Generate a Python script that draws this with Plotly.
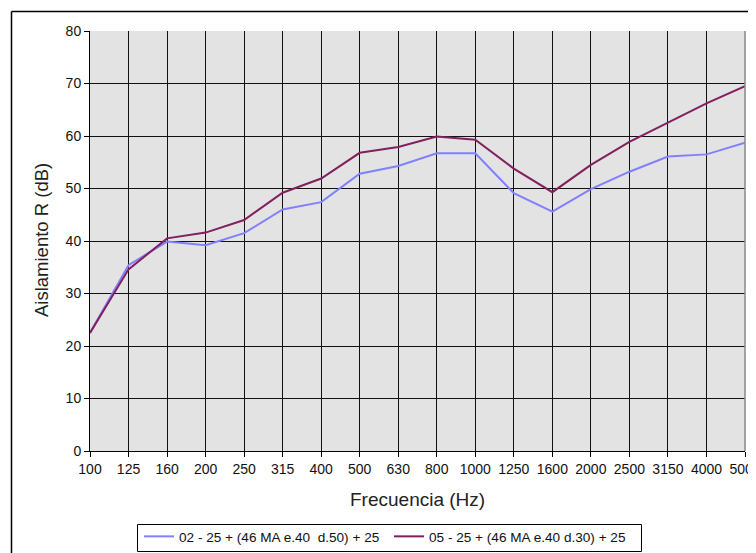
import plotly.graph_objects as go

freqs = ["100", "125", "160", "200", "250", "315", "400", "500", "630", "800",
         "1000", "1250", "1600", "2000", "2500", "3150", "4000", "5000"]
serie_02 = [22.5, 35.4, 39.9, 39.2, 41.5, 46.0, 47.4, 52.8, 54.3, 56.7,
            56.7, 49.1, 45.6, 49.9, 53.2, 56.1, 56.5, 58.7]
serie_05 = [22.5, 34.6, 40.5, 41.6, 44.0, 49.2, 51.9, 56.8, 57.9, 59.9,
            59.3, 53.8, 49.3, 54.5, 58.9, 62.5, 66.2, 69.5]
name_02 = "02 - 25 + (46 MA e.40\u00a0 d.50) + 25"
name_05 = "05 - 25 + (46 MA e.40 d.30) + 25"
y_ticks = [0, 10, 20, 30, 40, 50, 60, 70, 80]
x_title = "Frecuencia (Hz)"
y_title = "Aislamiento R (dB)"

FONT = "Liberation Sans, Arial, sans-serif"

fig = go.Figure()
fig.add_trace(go.Scatter(x=freqs, y=serie_02, mode="lines", name=name_02,
                         line=dict(color="#8080ff", width=2)))
fig.add_trace(go.Scatter(x=freqs, y=serie_05, mode="lines", name=name_05,
                         line=dict(color="#80205f", width=2)))

# the page body adds an 8px margin; work in screen pixels and convert
OFF = 8
W, H = 756 - OFF, 553 - OFF
PL, PR, PT, PB = 90, 745, 31, 451          # plot area in screen pixels
L, R, T, B = PL - OFF, W - (PR - OFF), PT - OFF, H - (PB - OFF)
pw = W - L - R
ph = H - T - B

def px_x(p):
    return (p - OFF - L) / pw

def px_y(p):
    return (H - B - (p - OFF)) / ph

fig.update_layout(
    width=W, height=H,
    margin=dict(l=L, r=R, t=T, b=B, pad=0, autoexpand=False),
    paper_bgcolor="white",
    plot_bgcolor="#e3e3e3",
    font=dict(family=FONT, size=14, color="#000"),
    showlegend=True,
    legend=dict(orientation="h", x=px_x(139), xanchor="left",
                y=px_y(521), yanchor="top",
                borderwidth=0, bgcolor="rgba(0,0,0,0)",
                font=dict(size=13.6, family=FONT, color="#111"),
                itemwidth=30, entrywidth=205),
    xaxis=dict(type="category", categoryorder="array", categoryarray=freqs,
               range=[0, 17], showgrid=True, gridcolor="#111", gridwidth=1.3,
               showline=True, linecolor="#000", linewidth=1,
               ticks="outside", ticklen=5, tickcolor="#000",
               tickfont=dict(size=14, family=FONT, color="#111"),
               automargin=False, zeroline=False, fixedrange=True),
    yaxis=dict(range=[0, 80], tickvals=y_ticks, showgrid=True, gridcolor="#111", gridwidth=1.3,
               showline=True, linecolor="#000", linewidth=1,
               ticks="outside", ticklen=5, tickcolor="#000",
               tickfont=dict(size=14, family=FONT, color="#111"),
               automargin=False, zeroline=False, fixedrange=True),
)

fig.add_annotation(text=x_title, xref="paper", yref="paper",
                   x=px_x(417), y=px_y(499), xanchor="center", yanchor="middle",
                   showarrow=False, font=dict(size=19, family=FONT, color="#222"))
fig.add_annotation(text=y_title, xref="paper", yref="paper", textangle=-90,
                   x=px_x(41), y=px_y(240), xanchor="center", yanchor="middle",
                   showarrow=False, font=dict(size=18.5, family=FONT, color="#222"))

# legend box
fig.add_shape(type="rect", xref="paper", yref="paper", layer="below",
              x0=px_x(137.5), x1=px_x(641.5), y0=px_y(524.5), y1=px_y(551.5),
              line=dict(color="#000", width=1), fillcolor="white")
# chart frame (top and left edges visible)
fig.add_shape(type="line", xref="paper", yref="paper",
              x0=px_x(11.5), x1=px_x(760), y0=px_y(11.5), y1=px_y(11.5),
              line=dict(color="#000", width=1.5))
fig.add_shape(type="line", xref="paper", yref="paper",
              x0=px_x(11.5), x1=px_x(11.5), y0=px_y(11.5), y1=px_y(560),
              line=dict(color="#000", width=1.5))
# right edge of plot area
fig.add_shape(type="line", xref="paper", yref="paper",
              x0=1, x1=1, y0=0, y1=1, line=dict(color="#888", width=1.5))

fig.write_html("out.html")
